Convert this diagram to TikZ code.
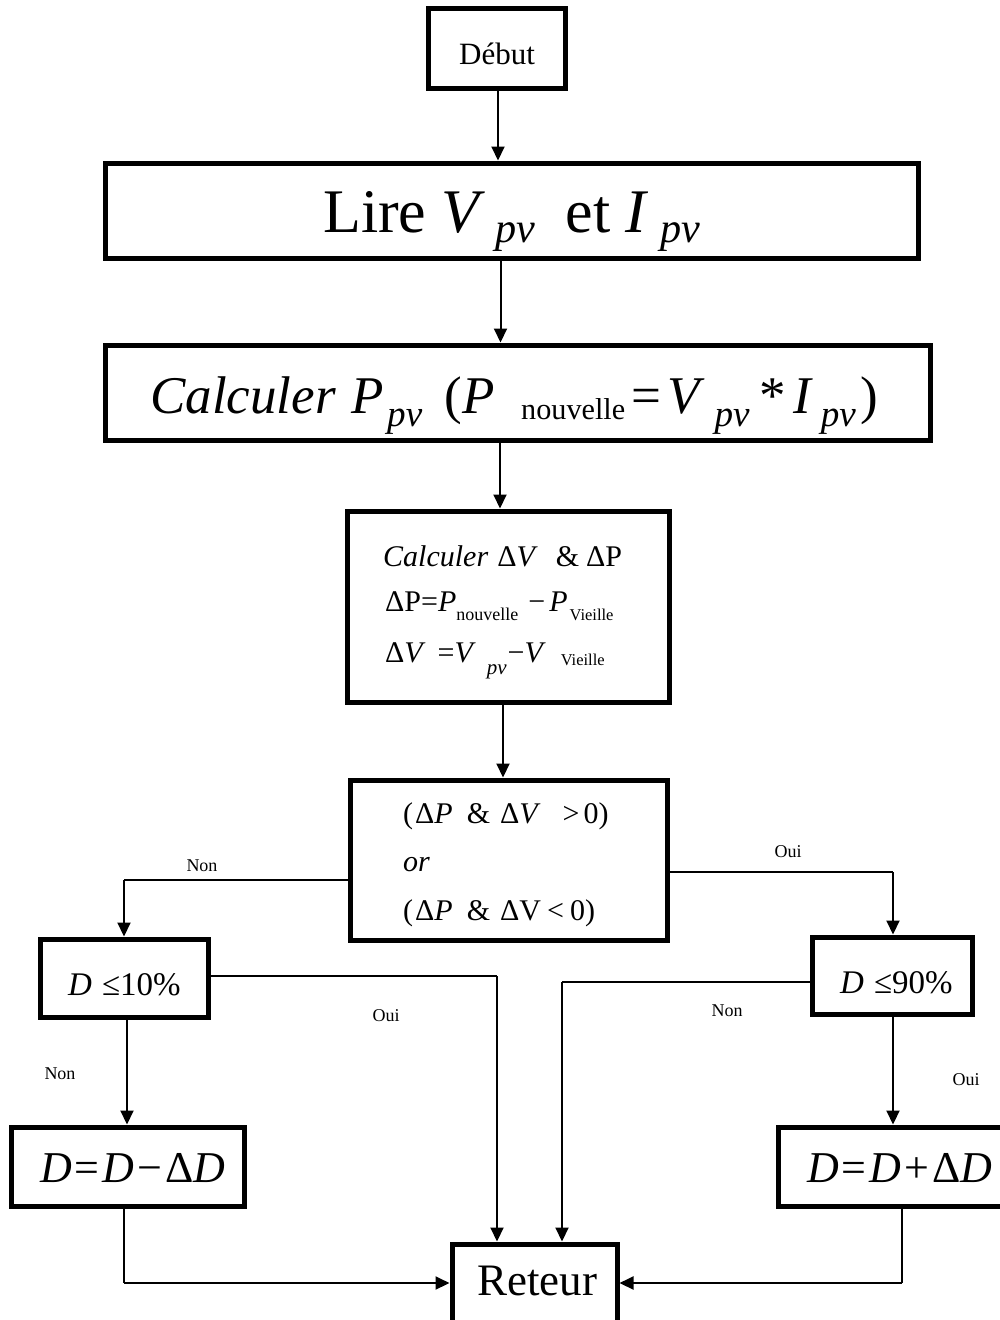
\documentclass[tikz,border=0pt]{standalone}
\usepackage{fontspec}
\setmainfont{Liberation Serif}
\usepackage{graphicx}
\usetikzlibrary{arrows.meta}
\newcommand{\subx}[3]{\raisebox{-#1}{\scalebox{#2}{#3}}}
\newcommand{\fsz}[2]{\fontsize{#1}{#2}\selectfont}
\newcommand{\hs}[1]{\hspace*{#1pt}}
\begin{document}
\begin{tikzpicture}[x=1pt,y=-1pt,
  box/.style={draw, line width=5pt, rectangle, inner sep=0pt},
  txt/.style={inner sep=0pt, anchor=base west},
  conn/.style={line width=2pt},
  arr/.style={line width=2pt, -{Triangle[length=14pt,width=13pt]}},
  lbl/.style={inner sep=0pt, font=\fsz{18}{20}}
]
\useasboundingbox (0,0) rectangle (1000,1320);

% boxes
\node[box, minimum width=137pt, minimum height=80pt] (deb) at (496.5,48) {};
\node[box, minimum width=813pt, minimum height=95pt] (lire) at (511.5,210.5) {};
\node[box, minimum width=825pt, minimum height=95pt] (calc) at (517.5,392.5) {};
\node[box, minimum width=322pt, minimum height=191pt] (delta) at (508,606.5) {};
\node[box, minimum width=317pt, minimum height=160pt] (dec) at (508.5,860) {};
\node[box, minimum width=168pt, minimum height=78pt] (d10) at (124,978) {};
\node[box, minimum width=160pt, minimum height=77pt] (d90) at (892,975.5) {};
\node[box, minimum width=233pt, minimum height=79pt] (dm) at (127.5,1166.5) {};
\node[box, minimum width=224pt, minimum height=79pt] (dp) at (890,1166.5) {};
\node[box, minimum width=165pt, minimum height=78pt] (ret) at (534.5,1283) {};

% texts
\node[inner sep=0pt, anchor=base, font=\fsz{31}{36}] (tdeb) at (497,64) {Début};
\node[txt, font=\fsz{62}{70}] (tlire) at (323,232)
  {Lire \textit{V}\hs{10}\subx{10pt}{0.68}{\textit{pv}}\hs{30}et\hs{15}\textit{I}\hs{12}\subx{10pt}{0.68}{\textit{pv}}};
\node[txt, font=\fsz{53}{60}] (tcalc) at (150,413)
  {\textit{Calculer}\hs{16}\textit{P}\hs{3}\subx{13pt}{0.7}{\textit{pv}}\hs{22}(\hs{1}\textit{P}\hs{26}\subx{6pt}{0.57}{nouvelle}\hs{6}=\hs{6}\textit{V}\hs{10}\subx{13pt}{0.7}{\textit{pv}}\hs{10}*\hs{7}\textit{I}\hs{8}\subx{13pt}{0.7}{\textit{pv}}\hs{5})};
\node[txt, font=\fsz{30}{36}] (td1) at (383,566)
  {\textit{Calculer}\hs{9}Δ\textit{V}\hs{18}\&\hs{7}ΔP};
\node[txt, font=\fsz{30}{36}] (td2) at (385,611)
  {ΔP=\textit{P}\subx{9pt}{0.6}{nouvelle}\hs{10}−\hs{4}\textit{P}\hs{2}\subx{9pt}{0.55}{Vieille}};
\node[txt, font=\fsz{30}{36}] (td3) at (385,662)
  {Δ\textit{V}\hs{12}=\textit{V}\hs{11}\subx{12pt}{0.7}{\textit{pv}}\hs{1}−\textit{V}\hs{15}\subx{3pt}{0.55}{Vieille}};
\node[txt, font=\fsz{30}{36}] (tc1) at (403,823)
  {(\hs{2}Δ\textit{P}\hs{14}\&\hs{10}Δ\textit{V}\hs{22}>\hs{4}0)};
\node[txt, font=\fsz{30}{36}] (tc2) at (403,871) {\textit{or}};
\node[txt, font=\fsz{30}{36}] (tc3) at (403,920)
  {(\hs{2}Δ\textit{P}\hs{14}\&\hs{10}ΔV\hs{6}<\hs{6}0)};
\node[txt, font=\fsz{33}{38}] (td10) at (68,995) {\textit{D}\hs{10}≤10\%};
\node[txt, font=\fsz{33}{38}] (td90) at (840,993) {\textit{D}\hs{10}≤90\%};
\node[txt, font=\fsz{44}{50}] (tdm) at (40,1182) {\textit{D}\hs{3}=\hs{3}\textit{D}\hs{3}−\hs{3}Δ\textit{D}};
\node[txt, font=\fsz{44}{50}] (tdp) at (807,1182) {\textit{D}\hs{3}=\hs{3}\textit{D}\hs{3}+\hs{3}Δ\textit{D}};
\node[inner sep=0pt, anchor=base, font=\fsz{45}{50}] (tret) at (537,1295) {Reteur};

\coordinate (c1) at (124,880);
\coordinate (c2) at (893,872);
\coordinate (c3) at (497,976);
\coordinate (c4) at (562,982);
\coordinate (c5) at (124,1283);
\coordinate (c6) at (902,1283);

\draw[arr] ([xshift=1.5pt]deb.south) -- ([xshift=1.5pt]deb.south |- lire.north);
\draw[arr] ([xshift=-11pt]lire.south) -- ([xshift=-11pt]lire.south |- calc.north);
\draw[arr] ([xshift=-8pt]delta.north |- calc.south) -- ([xshift=-8pt]delta.north);
\draw[arr] ([xshift=-5pt]delta.south) -- ([xshift=-5pt]delta.south |- dec.north);

\draw[conn] (dec.west |- c1) -- (c1);
\draw[arr] (c1) -- (c1 |- d10.north);
\draw[conn] (dec.east |- c2) -- (c2);
\draw[arr] (c2) -- (c2 |- d90.north);

\draw[conn] (d10.east |- c3) -- (c3);
\draw[arr] (c3) -- (c3 |- ret.north);
\draw[conn] (d90.west |- c4) -- (c4);
\draw[arr] (c4) -- (c4 |- ret.north);

\draw[arr] ([xshift=3pt]d10.south) -- ([xshift=3pt]d10.south |- dm.north);
\draw[arr] (d90.south -| c2) -- (c2 |- dp.north);

\draw[conn] (dm.south -| c5) -- (c5);
\draw[arr] (c5) -- (ret.west);
\draw[conn] (dp.south -| c6) -- (c6);
\draw[arr] (c6) -- (ret.east);

\node[lbl] (l1) at (202,866) {Non};
\node[lbl] (l2) at (788,852) {Oui};
\node[lbl] (l3) at (386,1016) {Oui};
\node[lbl] (l4) at (727,1011) {Non};
\node[lbl] (l5) at (60,1074) {Non};
\node[lbl] (l6) at (966,1080) {Oui};
\end{tikzpicture}
\end{document}
